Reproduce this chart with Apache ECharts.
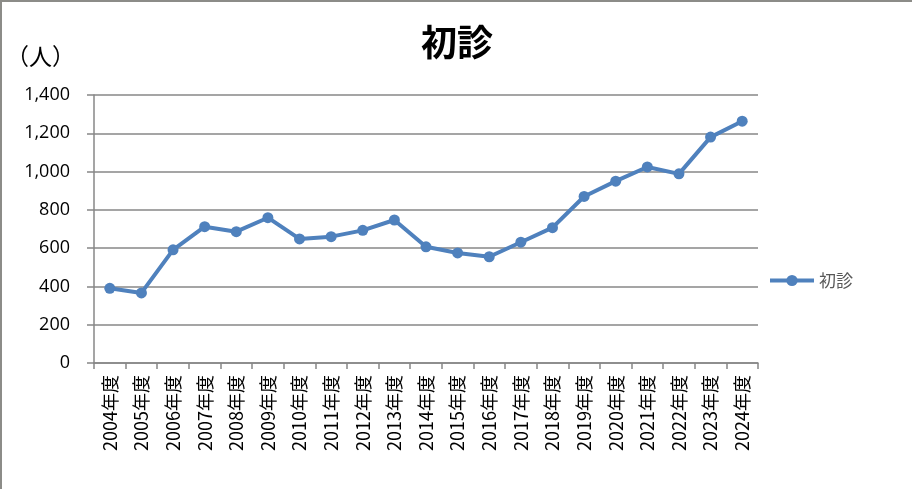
<!DOCTYPE html>
<html>
<head>
<meta charset="utf-8">
<script src="https://cdn.jsdelivr.net/npm/echarts@6/dist/echarts.min.js"></script>
<style>
  html, body { margin: 0; padding: 0; background: #fff; }
  #chart { width: 912px; height: 489px; box-sizing: border-box; border-top: 2px solid #8c8c88; border-left: 2px solid #8c8c88; }
</style>
</head>
<body>
<div id="chart"></div>
<script>
// data
const years = ["2004年度", "2005年度", "2006年度", "2007年度", "2008年度", "2009年度", "2010年度",
  "2011年度", "2012年度", "2013年度", "2014年度", "2015年度", "2016年度", "2017年度",
  "2018年度", "2019年度", "2020年度", "2021年度", "2022年度", "2023年度", "2024年度"];
const firstVisits = [390, 366, 591, 712, 686, 759, 648, 660, 693, 747, 607, 575, 555, 631,
  707, 870, 950, 1024, 988, 1180, 1263];

const jpFont = '"Noto Sans CJK JP", sans-serif';
const lineColor = "#4F81BD";
const gridGray = "#878787";

const myChart = echarts.init(document.getElementById("chart"));

const option = {
  animation: false,
  title: {
    text: "初診",
    left: "center",
    top: 17,
    textStyle: { fontFamily: jpFont, fontSize: 36, fontWeight: "bold", color: "#000" },
  },
  legend: {
    orient: "vertical",
    left: 766,
    top: 270,
    padding: 0,
    itemWidth: 44,
    itemHeight: 14,
    itemGap: 6,
    lineStyle: { width: 4 },
    textStyle: { fontFamily: jpFont, fontSize: 17, color: "#595959" },
    data: ["初診"],
  },
  grid: { left: 92, right: 154, top: 93, bottom: 126 },
  graphic: [
    {
      type: "text",
      left: 4,
      top: 43,
      style: { text: "（人）", font: '23px "Noto Sans CJK JP"', fill: "#000" },
    },
  ],
  xAxis: {
    type: "category",
    data: years,
    boundaryGap: true,
    axisLine: { lineStyle: { color: gridGray, width: 1.5 } },
    axisTick: { show: true, length: 6, lineStyle: { color: gridGray, width: 1.5 } },
    axisLabel: {
      rotate: 90,
      interval: 0,
      margin: 12,
      fontFamily: jpFont,
      fontSize: 18,
      color: "#000",
    },
  },
  yAxis: {
    type: "value",
    min: 0,
    max: 1400,
    interval: 200,
    axisLine: { show: true, lineStyle: { color: gridGray, width: 1.5 } },
    axisTick: { show: true, length: 7, lineStyle: { color: gridGray, width: 1.5 } },
    splitLine: { lineStyle: { color: gridGray, width: 1.5 } },
    axisLabel: {
      margin: 24,
      fontFamily: '"Open Sans", sans-serif',
      fontSize: 18,
      color: "#000",
      formatter: (v) => v.toLocaleString("en-US"),
    },
  },
  series: [
    {
      name: "初診",
      type: "line",
      data: firstVisits,
      symbol: "circle",
      symbolSize: 11,
      itemStyle: { color: lineColor },
      lineStyle: { color: lineColor, width: 4 },
    },
  ],
};

myChart.setOption(option);
</script>
</body>
</html>
